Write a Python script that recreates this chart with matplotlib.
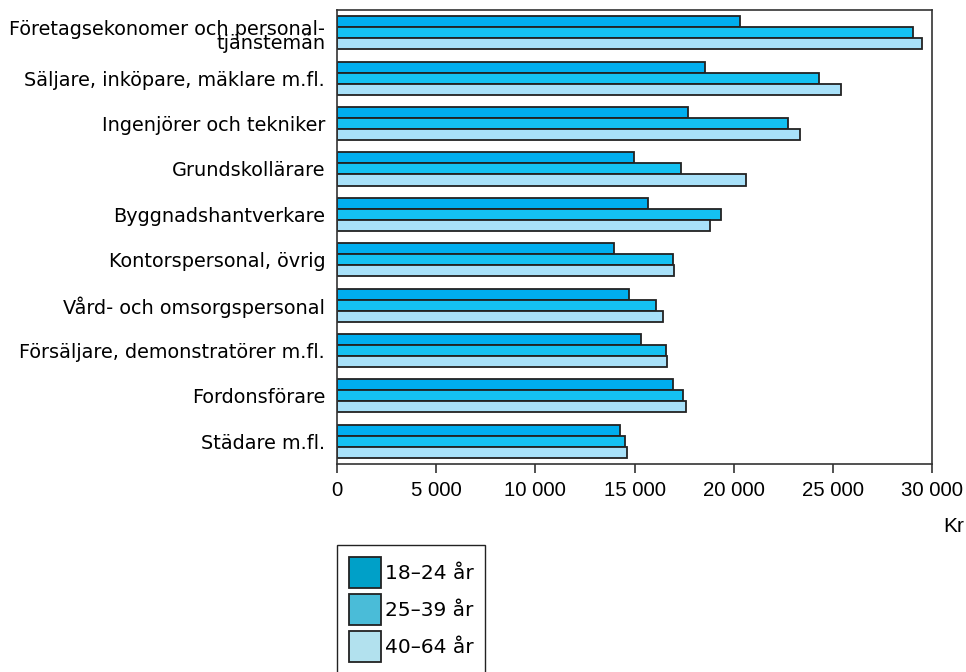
import matplotlib
matplotlib.use("Agg")
import matplotlib.pyplot as plt
import matplotlib.transforms as mtransforms
from matplotlib.patches import Patch
import numpy as np

# yrken, uppifrån och ned
yrken = ["Företagsekonomer och personal-\ntjänstemän",
         "Säljare, inköpare, mäklare m.fl.",
         "Ingenjörer och tekniker",
         "Grundskollärare",
         "Byggnadshantverkare",
         "Kontorspersonal, övrig",
         "Vård- och omsorgspersonal",
         "Försäljare, demonstratörer m.fl.",
         "Fordonsförare",
         "Städare m.fl."]
alder = ["18–24 år", "25–39 år", "40–64 år"]

lon_18_24 = [20300, 18550, 17700, 14950, 15700, 13950, 14700, 15350, 16950, 14250]
lon_25_39 = [29050, 24300, 22750, 17350, 19350, 16950, 16100, 16600, 17450, 14500]
lon_40_64 = [29500, 25400, 23350, 20600, 18800, 17000, 16450, 16650, 17600, 14600]

xticks = [0, 5000, 10000, 15000, 20000, 25000, 30000]
xtick_labels = ["0", "5 000", "10 000", "15 000", "20 000", "25 000", "30 000"]

bar_farger = ["#00AEEF", "#14C1F2", "#A8E1F9"]
legend_farger = ["#00A0C8", "#4ABCD8", "#B2E1EE"]
kant = "#222222"

fig = plt.figure(figsize=(9.66, 6.72), dpi=100)
ax = fig.add_axes([0.3489, 0.3095, 0.6159, 0.6755])

y = np.arange(len(yrken))
h = 0.243
for i, serie in enumerate([lon_18_24, lon_25_39, lon_40_64]):
    ax.barh(y + (i - 1) * h, serie, height=h, color=bar_farger[i],
            edgecolor=kant, linewidth=1.3)

ax.set_xlim(0, 30000)
ax.set_ylim(len(yrken) - 0.5, -0.5)
ax.set_yticks(y)
ax.set_yticklabels(yrken, fontsize=13.9, family="DejaVu Sans", linespacing=0.68)
ax.tick_params(axis="y", length=0, pad=8.5)
# tvåradiga etiketten lite längre ned
lbl = ax.get_yticklabels()[0]
lbl.set_transform(lbl.get_transform() + mtransforms.ScaledTranslation(0, -3 / 72, fig.dpi_scale_trans))
ax.set_xticks(xticks)
ax.set_xticklabels(xtick_labels, fontsize=14.7, family="Liberation Sans")
ax.tick_params(axis="x", direction="out", length=6.3, width=1.2, color="#333333", pad=6)
for s in ax.spines.values():
    s.set_color("#333333")
    s.set_linewidth(1.2)

fig.text(0.998, 1 - 532 / 672, "Kr", ha="right", va="baseline", fontsize=15,
         family="Liberation Sans")

handles = [Patch(facecolor=c, edgecolor=kant, linewidth=1.3) for c in legend_farger]
leg = fig.legend(handles, alder, loc="upper left", bbox_to_anchor=(336.5 / 966, 1 - 545 / 672),
                 borderaxespad=0, fancybox=False, framealpha=1, edgecolor="#222222",
                 prop={"family": "DejaVu Sans", "size": 14.5},
                 handlelength=1.59, handleheight=1.99, handletextpad=0.2,
                 labelspacing=0.3, borderpad=0.6)
leg.get_frame().set_linewidth(1.0)

fig.savefig("out.png", dpi=100)
